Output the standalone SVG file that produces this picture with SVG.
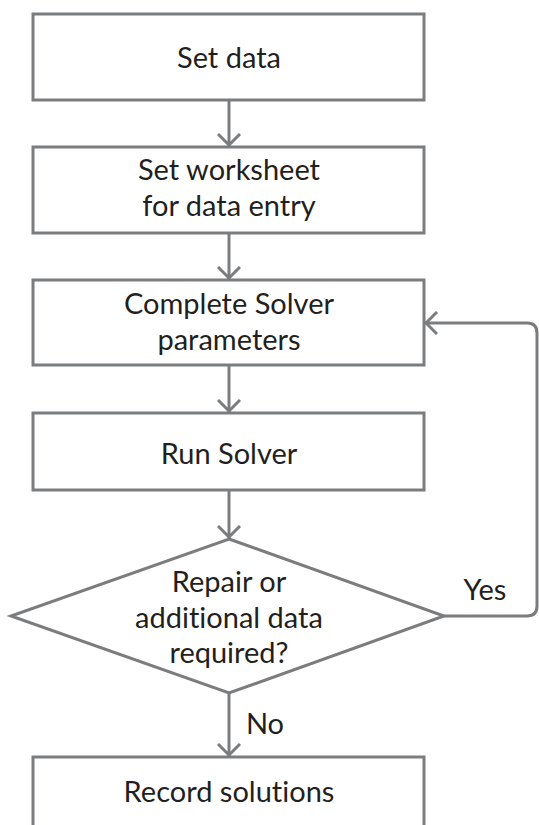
<svg xmlns="http://www.w3.org/2000/svg" width="539" height="825" viewBox="0 0 539 825">
<defs>
<style>
.box{fill:#fff;stroke:#7b7c7e;stroke-width:3}
.conn{fill:none;stroke:#7b7c7e;stroke-width:3}
text{font-family:Lato,"Open Sans",sans-serif;font-size:29px;fill:#231f20;text-anchor:middle;font-variant-ligatures:none;font-feature-settings:"liga" 0,"dlig" 0}
</style>
<marker id="arr" viewBox="0 0 14 24" refX="13" refY="12" markerWidth="14" markerHeight="24" markerUnits="userSpaceOnUse" orient="auto">
<path d="M1,1 L12,12 L1,23" fill="none" stroke="#7b7c7e" stroke-width="3"/>
</marker>
</defs>
<rect width="539" height="825" fill="#fff"/>
<g id="connectors">
<path class="conn" d="M229,100 V146" marker-end="url(#arr)"/>
<path class="conn" d="M229,233 V279" marker-end="url(#arr)"/>
<path class="conn" d="M229,365 V412" marker-end="url(#arr)"/>
<path class="conn" d="M229,490 V538" marker-end="url(#arr)"/>
<path class="conn" d="M229,693 V756" marker-end="url(#arr)"/>
<path class="conn" d="M444,616 H527 Q537,616 537,606 V333 Q537,323 527,323 H425" marker-end="url(#arr)"/>
<text x="485" y="600">Yes</text>
<text x="265" y="734">No</text>
</g>
<g id="n1"><rect class="box" x="33" y="14" width="391" height="86"/><text x="229" y="68">Set data</text></g>
<g id="n2"><rect class="box" x="33" y="147" width="391" height="86"/><text x="229" y="180">Set worksheet</text><text x="229" y="216">for data entry</text></g>
<g id="n3"><rect class="box" x="33" y="280" width="391" height="85"/><text x="229" y="314">Complete Solver</text><text x="229" y="350">parameters</text></g>
<g id="n4"><rect class="box" x="33" y="413" width="391" height="77"/><text x="229" y="464">Run Solver</text></g>
<g id="n5"><polygon class="box" points="229,539 444,616 229,693 11,616"/><text x="229" y="592">Repair or</text><text x="229" y="628">additional data</text><text x="229" y="663">required?</text></g>
<g id="n6"><rect class="box" x="33" y="757" width="391" height="80"/><text x="229" y="802">Record solutions</text></g>
</svg>
